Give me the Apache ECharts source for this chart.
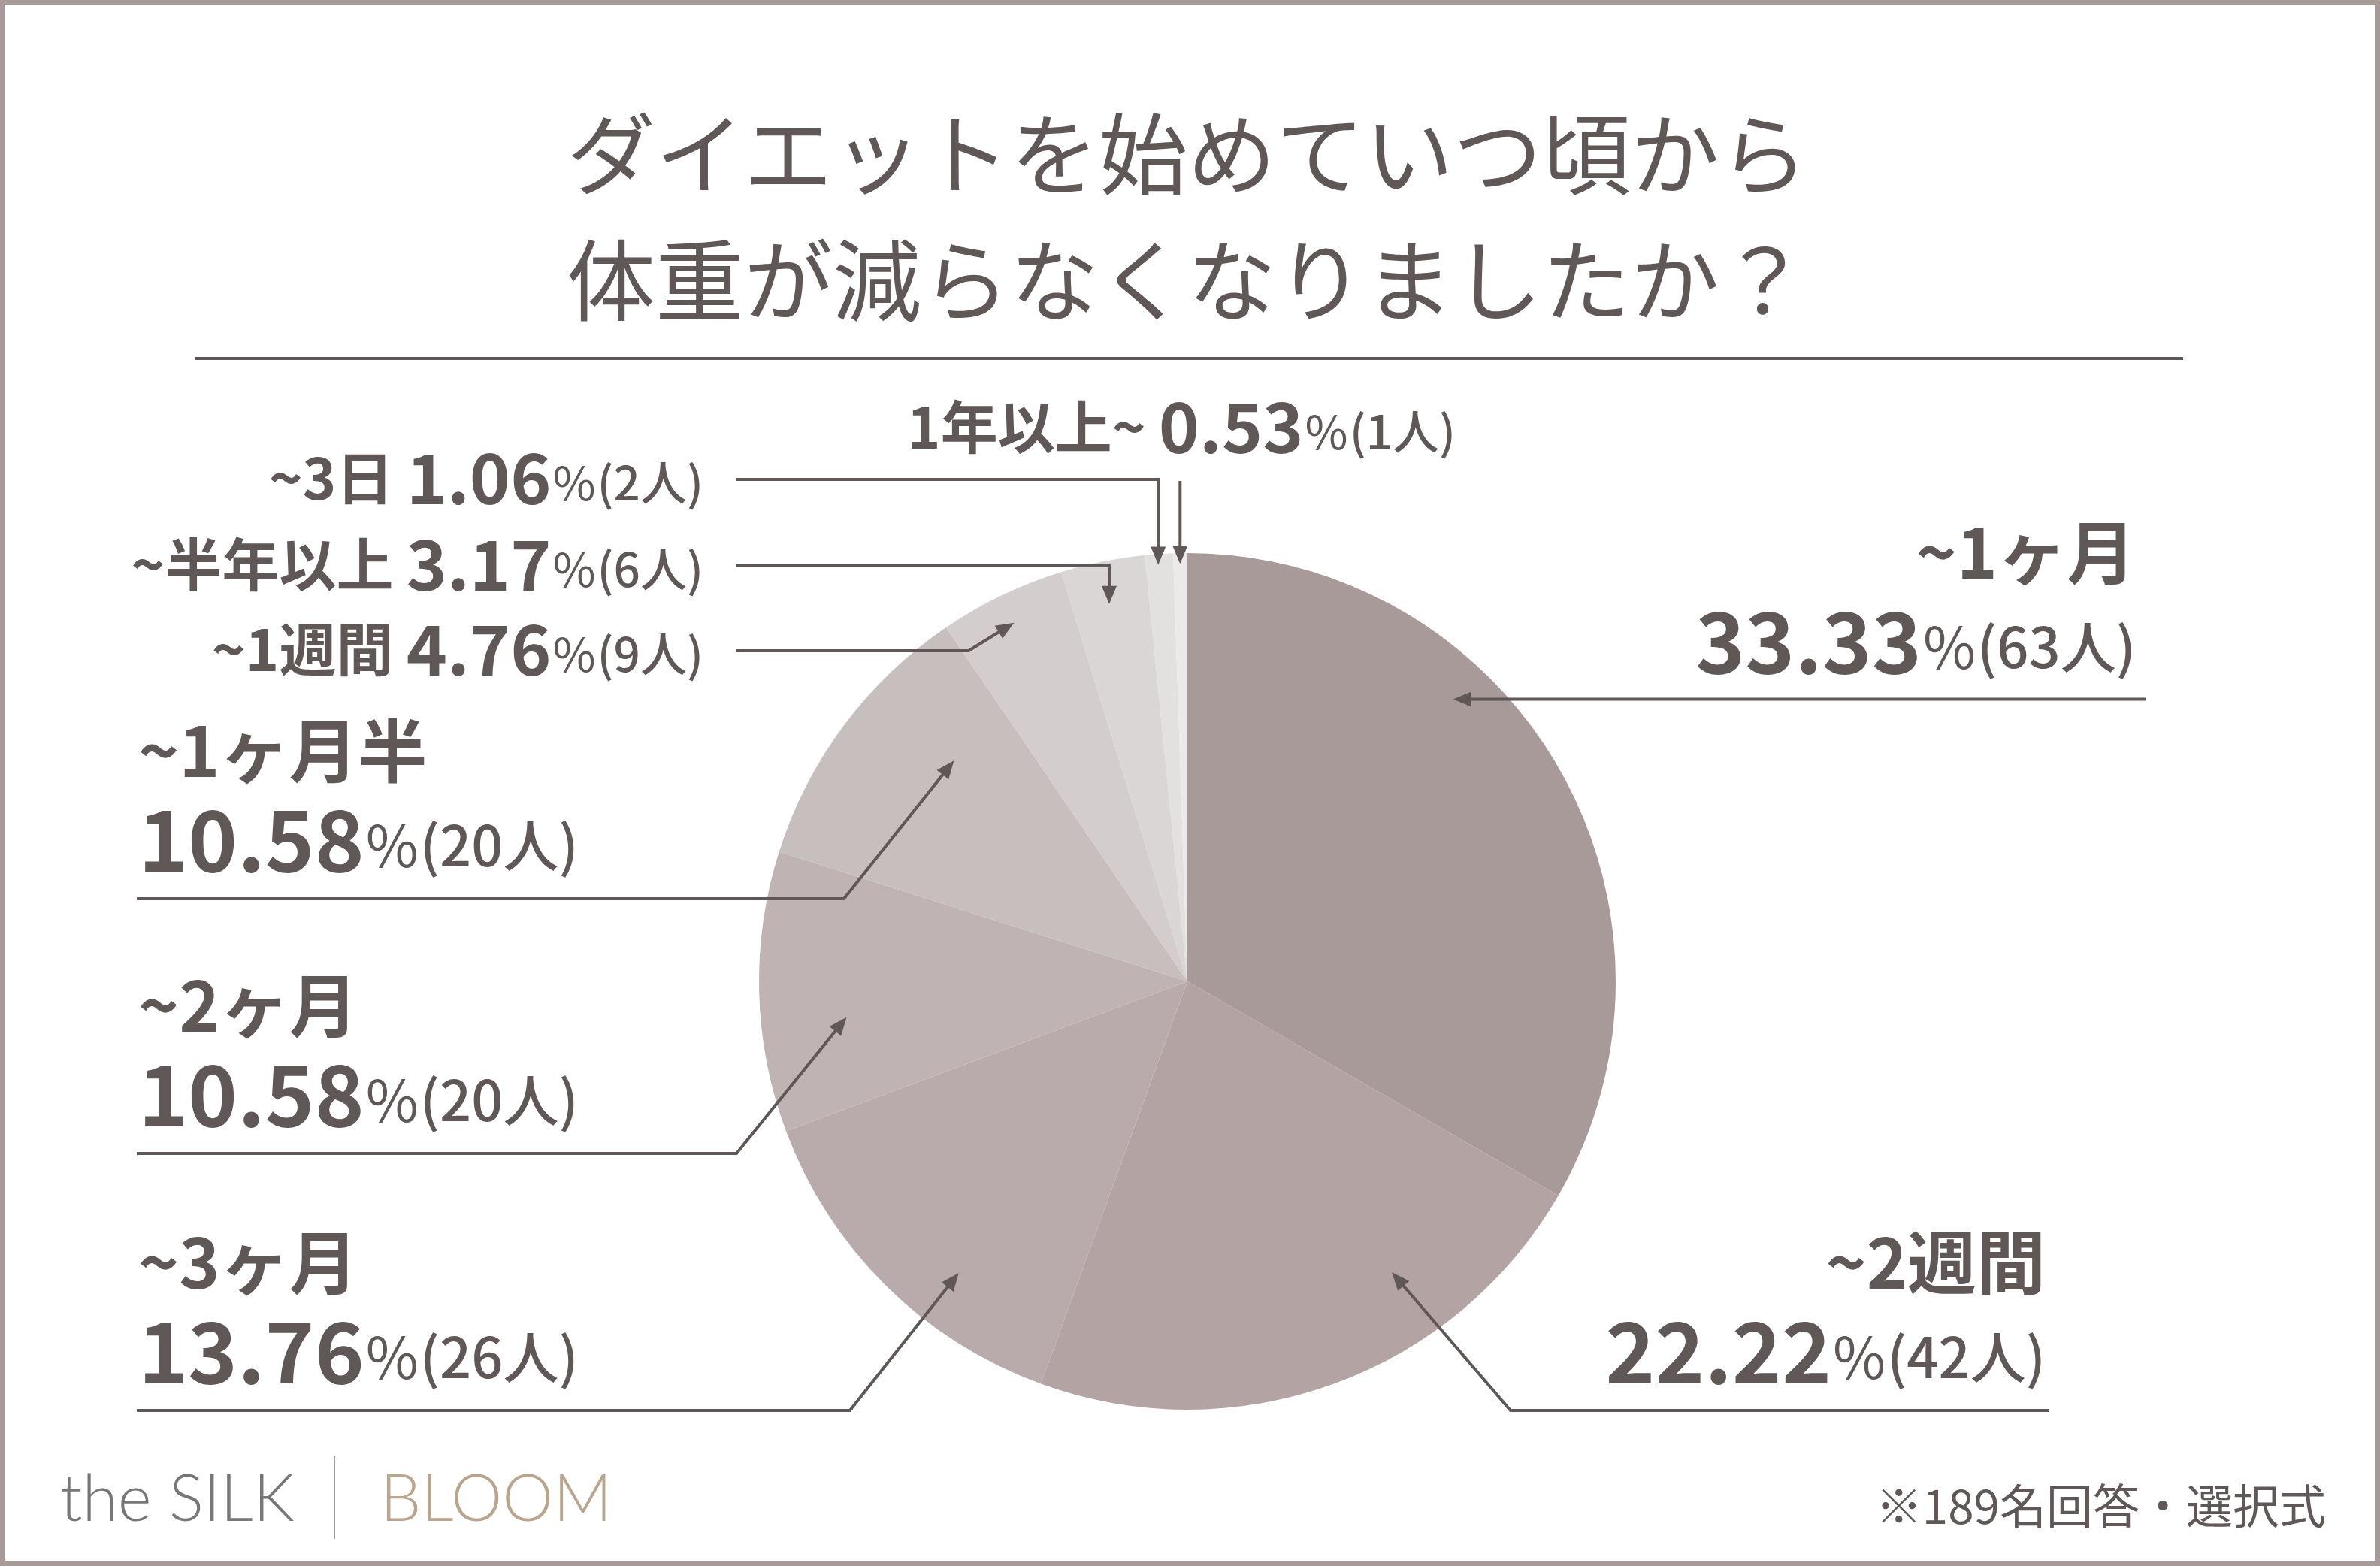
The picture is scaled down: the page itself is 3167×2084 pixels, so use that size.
<!DOCTYPE html>
<html><head><meta charset="utf-8">
<script src="https://cdn.jsdelivr.net/npm/echarts@6/dist/echarts.min.js"></script>
<style>html,body{margin:0;padding:0;background:#fff}#c{width:3167px;height:2084px}</style>
</head><body><div id="c"></div>
<script>
// ---- data ----
const categories = ['~1ヶ月', '~2週間', '~3ヶ月', '~2ヶ月', '~1ヶ月半', '~1週間', '~半年以上', '~3日', '1年以上~'];
const counts = [63, 42, 26, 20, 20, 9, 6, 2, 1];
const percents = ['33.33', '22.22', '13.76', '10.58', '10.58', '4.76', '3.17', '1.06', '0.53'];
const titleLines = ['ダイエットを始めていつ頃から', '体重が減らなくなりましたか？'];
const footnote = '※189名回答・選択式';
const logoLeft = 'the SILK';
const logoRight = 'BLOOM';

// ---- style / layout ----
const colors = ['#a99a9a', '#b3a3a3', '#b9abab', '#bfb3b3', '#c7bebe', '#d4cdcd', '#dbd6d6', '#e3e0e0', '#ebe9e9'];
const INK = '#5f5856';
const FONT = '"Noto Sans CJK JP", "Noto Sans", sans-serif';
const C = { x: 1580, y: 1306 }, R = 570;
// label anchor + leader line description per slice
const layout = [
  { type: 'big', align: 'right', x: 2842, lineY: 932, kind: 'h', startX: 2855, tip: [43.3, 0.905] },
  { type: 'big', align: 'right', x: 2722, lineY: 1877, kind: 'diag', startX: 2727, cornerX: 2010, tip: [144.9, 0.83] },
  { type: 'big', align: 'left', x: 184, lineY: 1877, kind: 'diag', startX: 182, cornerX: 1131, tip: [218.1, 0.865] },
  { type: 'big', align: 'left', x: 184, lineY: 1535, kind: 'diag', startX: 182, cornerX: 980, tip: [264, 0.80] },
  { type: 'big', align: 'left', x: 184, lineY: 1196, kind: 'diag', startX: 182, cornerX: 1123, tip: [313.4, 0.75] },
  { type: 'small', align: 'right', x: 936, lineY: 866, kind: 'diag', startX: 980, cornerX: 1289, tip: [334.2, 0.93] },
  { type: 'small', align: 'right', x: 936, lineY: 753, kind: 'down', startX: 980, tip: [348.3, 0.90] },
  { type: 'small', align: 'right', x: 936, lineY: 638, kind: 'down', startX: 980, tip: [356, 0.975] },
  { type: 'top', align: 'center', x: 1572, lineY: 570, kind: 'down', startY: 640, tip: [359, 0.975] }
];

function polar(angDeg, frac) {
  const a = angDeg * Math.PI / 180;
  return [C.x + R * frac * Math.sin(a), C.y - R * frac * Math.cos(a)];
}

const graphics = [];
const Z = 50;
// frame
graphics.push({ type: 'rect', silent: true, z: Z, shape: { x: 3, y: 3, width: 3161, height: 2078 },
  style: { fill: 'none', stroke: '#a99a9a', lineWidth: 6 } });
// title
graphics.push({ type: 'text', silent: true, z: Z, style: {
  text: titleLines.join('\n'), x: 1580, y: 289, align: 'center', verticalAlign: 'middle',
  fill: INK, fontSize: 118, fontWeight: 400, fontFamily: FONT, lineHeight: 168 } });
graphics.push({ type: 'line', silent: true, z: Z, shape: { x1: 260, y1: 477, x2: 2905, y2: 477 },
  style: { stroke: INK, lineWidth: 4 } });

// leader lines + arrows
const AL = 24, AW = 10;
layout.forEach((L) => {
  const t = polar(L.tip[0], L.tip[1]);
  let pts;
  if (L.kind === 'h') pts = [[L.startX, t[1]], t];
  else if (L.kind === 'diag') pts = [[L.startX, L.lineY], [L.cornerX, L.lineY], t];
  else if (L.startY !== undefined) pts = [[t[0], L.startY], t];
  else pts = [[L.startX, L.lineY], [t[0], L.lineY], t];
  const p = pts[pts.length - 2];
  let dx = t[0] - p[0], dy = t[1] - p[1];
  const len = Math.hypot(dx, dy); dx /= len; dy /= len;
  const base = [t[0] - dx * AL, t[1] - dy * AL];
  const linePts = pts.slice(0, -1).concat([[base[0] + dx * 2, base[1] + dy * 2]]);
  graphics.push({ type: 'polyline', silent: true, z: Z, shape: { points: linePts },
    style: { stroke: INK, lineWidth: 4, fill: 'none', lineJoin: 'miter' } });
  graphics.push({ type: 'polygon', silent: true, z: Z, shape: { points: [t,
    [base[0] - dy * AW, base[1] + dx * AW], [base[0] + dy * AW, base[1] - dx * AW]] },
    style: { fill: INK } });
});

// logo + footnote
graphics.push({ type: 'text', silent: true, z: Z, style: { text: logoLeft, x: 80, y: 1996, align: 'left', verticalAlign: 'middle',
  fill: '#777777', fontSize: 86, fontWeight: 300, fontFamily: 'Lato, "Open Sans", sans-serif' } });
graphics.push({ type: 'line', silent: true, z: Z, shape: { x1: 445, y1: 1938, x2: 445, y2: 2048 },
  style: { stroke: '#9a9a9a', lineWidth: 2 } });
graphics.push({ type: 'text', silent: true, z: Z, style: { text: logoRight, x: 506, y: 1996, align: 'left', verticalAlign: 'middle',
  fill: '#b8a58c', fontSize: 86, fontWeight: 300, fontFamily: 'Lato, "Open Sans", sans-serif' } });
graphics.push({ type: 'text', silent: true, z: Z, style: { text: footnote, x: 3095, y: 2004, align: 'right', verticalAlign: 'middle',
  fill: INK, fontSize: 62, fontWeight: 400, fontFamily: FONT } });

const rich = {
  nameB: { fontSize: 92, fontWeight: 'bold', lineHeight: 118, fontFamily: FONT, color: INK },
  pctB: { fontSize: 112, fontWeight: 'bold', lineHeight: 118, fontFamily: FONT, color: INK },
  unitB: { fontSize: 76, fontWeight: 400, fontFamily: FONT, color: INK, padding: [16, 2, 0, 2] },
  cntB: { fontSize: 74, fontWeight: 500, fontFamily: FONT, color: INK, padding: [16, 0, 0, 0] },
  nameS: { fontSize: 76, fontWeight: 'bold', fontFamily: FONT, color: INK },
  pctS: { fontSize: 92, fontWeight: 'bold', fontFamily: FONT, color: INK },
  unitS: { fontSize: 62, fontWeight: 400, fontFamily: FONT, color: INK, padding: [12, 2, 0, 2] },
  cntS: { fontSize: 62, fontWeight: 500, fontFamily: FONT, color: INK, padding: [12, 0, 0, 0] }
};

const chart = echarts.init(document.getElementById('c'));
chart.setOption({
  backgroundColor: '#ffffff',
  animation: false,
  graphic: graphics,
  series: [{
    type: 'pie',
    z: 2,
    center: [C.x, C.y],
    radius: R,
    startAngle: 90,
    clockwise: true,
    silent: true,
    avoidLabelOverlap: false,
    itemStyle: { borderWidth: 0 },
    data: categories.map((n, i) => ({ name: n, value: counts[i], itemStyle: { color: colors[i] } })),
    label: {
      show: true,
      position: 'outside',
      rich: rich,
      formatter: (p) => {
        const i = p.dataIndex, L = layout[i];
        if (L.type === 'big') {
          return '{nameB|' + categories[i] + '}\n{pctB|' + percents[i] + '}{unitB|%}{cntB|(' + counts[i] + '人)}';
        }
        return '{nameS|' + categories[i] + ' }{pctS|' + percents[i] + '}{unitS|%}{cntS|(' + counts[i] + '人)}';
      }
    },
    labelLine: { show: false },
    labelLayout: (p) => {
      const L = layout[p.dataIndex];
      if (L.type === 'big') return { x: L.x, y: L.lineY - 256, align: L.align, verticalAlign: 'top' };
      return { x: L.x, y: L.lineY - 2, align: L.align, verticalAlign: 'middle' };
    }
  }]
});
</script>
</body></html>
